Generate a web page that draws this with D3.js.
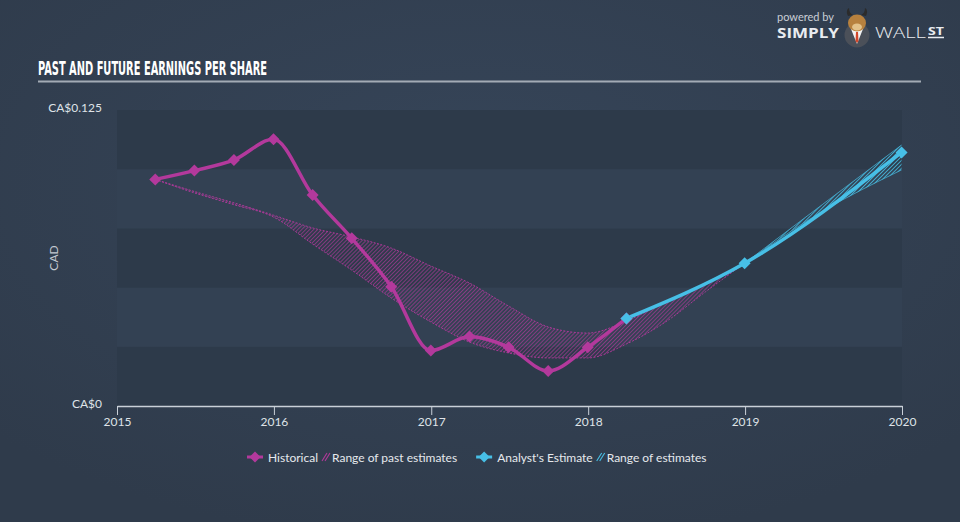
<!DOCTYPE html>
<html><head><meta charset="utf-8">
<script src="https://cdn.jsdelivr.net/npm/d3@7"></script>
<style>
html,body{margin:0;padding:0;background:#344152;}
svg{display:block;}
</style></head><body>
<svg id="chart" width="960" height="522"></svg>
<script>
// ---------- data ----------
const histDates = ["2015-03-31","2015-06-30","2015-09-30","2015-12-31","2016-03-31","2016-06-30","2016-09-30","2016-12-31","2017-03-31","2017-06-30","2017-09-30","2017-12-31","2018-03-31"];
const histValues = [0.0957,0.0994,0.1039,0.1126,0.0891,0.0708,0.0504,0.0234,0.0293,0.0248,0.0148,0.0248,0.0370];
const fcDates = ["2018-03-31","2018-12-31","2019-12-31"];
const fcValues = [0.0370,0.0603,0.1071];
const pastRangeDates = ["2015-03-31","2015-06-30","2015-09-30","2015-12-31","2016-03-31","2016-06-30","2016-09-30","2016-12-31","2017-03-31","2017-06-30","2017-09-30","2017-12-31","2018-03-31","2018-06-30","2018-09-30","2018-12-31"];
const pastRangeLow  = [0.0957,0.0900,0.0850,0.0798,0.0684,0.0574,0.0456,0.0355,0.0270,0.0224,0.0203,0.0203,0.0262,0.0355,0.0481,0.0603];
const pastRangeHigh = [0.0957,0.0906,0.0858,0.0806,0.0752,0.0714,0.0667,0.0591,0.0519,0.0422,0.0334,0.0308,0.0359,0.0439,0.0515,0.0603];
const futRangeDates = ["2018-12-31","2019-06-30","2019-12-31"];
const futRangeLow  = [0.0603,0.0822,0.0997];
const futRangeHigh = [0.0603,0.0851,0.1102];
const xTickYears = [2015,2016,2017,2018,2019,2020];
const yTickValues = [0,0.125];
const yTickLabels = ["CA$0","CA$0.125"];
const bandStops = [0,0.025,0.05,0.075,0.1,0.125];
const legendLabels = ["Historical","Range of past estimates","Analyst's Estimate","Range of estimates"];

// ---------- setup ----------
const MAG = "#b3399c", BLUE = "#47bfe6";
const parse = d3.timeParse("%Y-%m-%d");
const svg = d3.select("#chart");
const defs = svg.append("defs");

const bg = defs.append("radialGradient").attr("id","bg").attr("cx","50%").attr("cy","35%").attr("r","70%");
bg.append("stop").attr("offset","0%").attr("stop-color","#364559");
bg.append("stop").attr("offset","100%").attr("stop-color","#2f3b4b");
svg.append("rect").attr("width",960).attr("height",522).attr("fill","url(#bg)");

function hatch(id,color,op){
  const p = defs.append("pattern").attr("id",id).attr("patternUnits","userSpaceOnUse")
    .attr("width",2.8).attr("height",2.8).attr("patternTransform","rotate(45)");
  p.append("line").attr("x1",0.5).attr("y1",0).attr("x2",0.5).attr("y2",2.8)
    .attr("stroke",color).attr("stroke-width",0.9).attr("stroke-opacity",op);
}
hatch("hMag",MAG,0.7);
hatch("hBlue",BLUE,0.9);

const x = d3.scaleTime().domain([new Date(2015,0,1), new Date(2020,0,1)]).range([117,902]);
const y = d3.scaleLinear().domain([0,0.125]).range([406,110]);

// bands
const bandPairs = d3.pairs(bandStops);
svg.append("g").selectAll("rect").data(bandPairs).join("rect")
  .attr("x",x.range()[0]).attr("width",x.range()[1]-x.range()[0])
  .attr("y",d=>y(d[1])).attr("height",d=>y(d[0])-y(d[1]))
  .attr("fill",(d,i)=> i%2===0 ? "#2d3a4a" : "#334153");

// title
svg.append("text").attr("x",38).attr("y",75).text("PAST AND FUTURE EARNINGS PER SHARE")
  .attr("font-family","Liberation Sans Narrow, DejaVu Sans Condensed, sans-serif").attr("font-weight","bold")
  .attr("font-size",19).attr("fill","#ffffff").attr("textLength",229).attr("lengthAdjust","spacingAndGlyphs");
svg.append("line").attr("x1",38).attr("x2",921).attr("y1",81.5).attr("y2",81.5)
  .attr("stroke","#a3abb5").attr("stroke-width",2);

// logo
const logo = svg.append("g");
logo.append("text").attr("x",777).attr("y",21).text("powered by").attr("font-family","Lato, sans-serif")
  .attr("font-size",11).attr("fill","#c9ced6").attr("textLength",57).attr("lengthAdjust","spacingAndGlyphs");
logo.append("text").attr("x",777).attr("y",37.5).text("SIMPLY").attr("font-family","Open Sans, sans-serif")
  .attr("font-weight","bold").attr("font-size",14).attr("fill","#e9ecf0").attr("textLength",62).attr("lengthAdjust","spacingAndGlyphs");
logo.append("circle").attr("cx",857).attr("cy",35).attr("r",12.5).attr("fill","#4b5059");
logo.append("path").attr("d","M851,29 L857,44 L863,29 Z").attr("fill","#f2f2f2");
logo.append("path").attr("d","M856,32 L858,32 L858.5,41 L857,43 L855.5,41 Z").attr("fill","#d2462a");
logo.append("path").attr("d","M848,16 C846,12 847,9 849,8 C849,12 851,14 853,15 Z").attr("fill","#2b2b2b");
logo.append("path").attr("d","M866,16 C868,12 867,9 865,8 C865,12 863,14 861,15 Z").attr("fill","#2b2b2b");
logo.append("ellipse").attr("cx",857).attr("cy",23).attr("rx",9).attr("ry",8.5).attr("fill","#b7813e");
logo.append("ellipse").attr("cx",857).attr("cy",27).attr("rx",5).attr("ry",3.5).attr("fill","#e3c28a");
logo.append("text").attr("x",875).attr("y",37.5).text("WALL").attr("font-family","Open Sans, sans-serif")
  .attr("font-weight",300).attr("font-size",14).attr("fill","#e9ecf0").attr("textLength",51).attr("lengthAdjust","spacingAndGlyphs");
logo.append("text").attr("x",928).attr("y",34.5).text("ST").attr("font-family","Open Sans, sans-serif")
  .attr("font-weight","bold").attr("font-size",10).attr("fill","#e9ecf0").attr("textLength",16).attr("lengthAdjust","spacingAndGlyphs");
logo.append("line").attr("x1",928).attr("x2",944).attr("y1",37.5).attr("y2",37.5).attr("stroke","#e9ecf0").attr("stroke-width",1.5);

// axes
const xAxis = d3.axisBottom(x).tickValues(xTickYears.map(yr=>new Date(yr,0,1)))
  .tickFormat(d3.timeFormat("%Y")).tickSizeInner(9).tickSizeOuter(0).tickPadding(2);
const gx = svg.append("g").attr("transform",`translate(0,${y(0)})`).call(xAxis);
gx.select(".domain").attr("stroke","#c9d0d8").attr("stroke-width",1.5);
gx.selectAll(".tick line").attr("stroke","#c9d0d8").attr("stroke-width",1);
gx.selectAll("text").attr("font-family","Lato, sans-serif").attr("font-size",12).attr("fill","#dfe3e8");

svg.append("g").selectAll("text").data(yTickValues).join("text")
  .attr("x",102).attr("y",d=>y(d)-3).attr("text-anchor","end").attr("dominant-baseline","central")
  .attr("font-family","Lato, sans-serif").attr("font-size",12).attr("fill","#dfe3e8")
  .text((d,i)=>yTickLabels[i]);
svg.append("text").attr("transform",`translate(53,${(y(0)+y(0.125))/2}) rotate(-90)`)
  .attr("text-anchor","middle").attr("dominant-baseline","central")
  .attr("font-family","Lato, sans-serif").attr("font-size",12).attr("fill","#c3c9d1").text("CAD");

// past range
const pastRange = pastRangeDates.map((d,i)=>({date:parse(d),lo:pastRangeLow[i],hi:pastRangeHigh[i]}));
const area = d3.area().x(d=>x(d.date)).y0(d=>y(d.lo)).y1(d=>y(d.hi)).curve(d3.curveMonotoneX);
const lineLo = d3.line().x(d=>x(d.date)).y(d=>y(d.lo)).curve(d3.curveMonotoneX);
const lineHi = d3.line().x(d=>x(d.date)).y(d=>y(d.hi)).curve(d3.curveMonotoneX);
svg.append("path").datum(pastRange).attr("d",area).attr("fill","url(#hMag)");
[lineLo,lineHi].forEach(l=>svg.append("path").datum(pastRange).attr("d",l).attr("fill","none")
  .attr("stroke",MAG).attr("stroke-width",1).attr("stroke-dasharray","2,1.5").attr("opacity",0.9));

// future range
const futRange = futRangeDates.map((d,i)=>({date:parse(d),lo:futRangeLow[i],hi:futRangeHigh[i]}));
svg.append("path").datum(futRange).attr("d",area).attr("fill","url(#hBlue)");
[lineLo,lineHi].forEach(l=>svg.append("path").datum(futRange).attr("d",l).attr("fill","none")
  .attr("stroke",BLUE).attr("stroke-width",0.8).attr("opacity",0.85));

// lines
const hist = histDates.map((d,i)=>({date:parse(d),v:histValues[i]}));
const fc = fcDates.map((d,i)=>({date:parse(d),v:fcValues[i]}));
const line = d3.line().x(d=>x(d.date)).y(d=>y(d.v)).curve(d3.curveMonotoneX);
svg.append("path").datum(hist).attr("d",line).attr("fill","none").attr("stroke",MAG).attr("stroke-width",3.5).attr("stroke-linejoin","round");
svg.append("path").datum(fc).attr("d",line).attr("fill","none").attr("stroke",BLUE).attr("stroke-width",3.5).attr("stroke-linejoin","round");

const diamond = (cx,cy,r)=>`M${cx-r},${cy}L${cx},${cy-r}L${cx+r},${cy}L${cx},${cy+r}Z`;
svg.append("g").selectAll("path").data(hist).join("path").attr("d",d=>diamond(x(d.date),y(d.v),6)).attr("fill",MAG);
svg.append("g").selectAll("path").data(fc).join("path").attr("d",d=>diamond(x(d.date),y(d.v),6)).attr("fill",BLUE);

// legend
const lg = svg.append("g").attr("font-family","Lato, sans-serif").attr("font-size",12).attr("fill","#e6e9ed");
const LY = 457;
function lineIcon(x0,color){
  lg.append("line").attr("x1",x0).attr("x2",x0+16).attr("y1",LY).attr("y2",LY).attr("stroke",color).attr("stroke-width",3);
  lg.append("path").attr("d",diamond(x0+8,LY,5.5)).attr("fill",color);
}
function hatchIcon(x0,color){
  [0,3].forEach(o=>lg.append("line").attr("x1",x0+o).attr("y1",LY+4).attr("x2",x0+o+5).attr("y2",LY-4)
    .attr("stroke",color).attr("stroke-width",1.1));
}
function label(x0,t){
  const el = lg.append("text").attr("x",x0).attr("y",LY).attr("dominant-baseline","central").text(t);
  return el.node().getComputedTextLength();
}
let cx = 247;
lineIcon(cx,MAG); cx += 21;
cx += label(cx,legendLabels[0]) + 4;
hatchIcon(cx,MAG); cx += 10;
cx += label(cx,legendLabels[1]) + 19;
lineIcon(cx,BLUE); cx += 21;
cx += label(cx,legendLabels[2]) + 4;
hatchIcon(cx,BLUE); cx += 10;
label(cx,legendLabels[3]);
</script>
</body></html>
